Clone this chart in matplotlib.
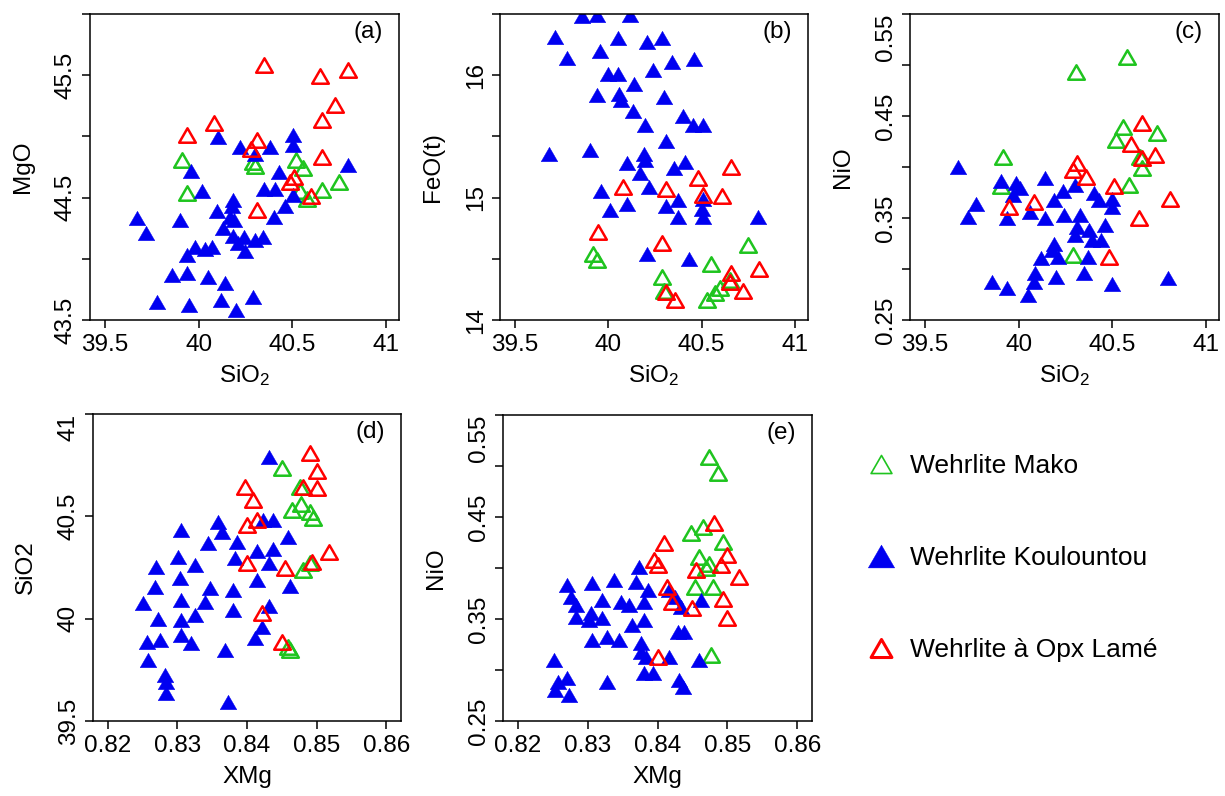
import matplotlib
matplotlib.use('Agg')
import matplotlib.pyplot as plt
from matplotlib.path import Path
from matplotlib.lines import Line2D

plt.rcParams['font.family'] = ['Liberation Sans', 'DejaVu Sans']
plt.rcParams['mathtext.fontset'] = 'custom'
plt.rcParams['mathtext.rm'] = 'Liberation Sans'
plt.rcParams['mathtext.default'] = 'regular'

# ---------------- data ----------------
# (a) SiO2 vs MgO
a_kou_x = [40.105, 40.22, 40.38, 40.505, 40.505, 40.30, 39.96, 40.02, 40.43, 40.35, 40.41, 40.505,
           40.46, 40.40, 40.80, 39.67, 39.72, 39.90, 40.185, 40.18, 40.10, 40.19, 40.13, 40.185,
           40.21, 40.25, 40.30, 40.345, 40.07, 40.035, 39.98, 39.94, 39.86, 39.94, 40.05, 40.14,
           39.78, 39.95, 40.12, 40.20, 40.29, 40.17, 40.24]
a_kou_y = [44.996, 44.91, 44.91, 45.01, 44.93, 44.86, 44.72, 44.55, 44.71, 44.57, 44.57, 44.52,
           44.43, 44.34, 44.77, 44.33, 44.21, 44.32, 44.48, 44.43, 44.39, 44.32, 44.25, 44.19,
           44.13, 44.06, 44.15, 44.18, 44.10, 44.08, 44.10, 44.03, 43.87, 43.88, 43.85, 43.80,
           43.65, 43.62, 43.66, 43.58, 43.69, 44.34, 44.18]
a_mako_x = [39.91, 39.94, 40.29, 40.30, 40.52, 40.56, 40.58, 40.66, 40.75, 40.54]
a_mako_y = [44.81, 44.54, 44.79, 44.76, 44.81, 44.74, 44.49, 44.56, 44.63, 44.55]
a_opx_x = [40.35, 40.65, 40.80, 40.73, 40.66, 39.94, 40.08, 40.31, 40.28, 40.66, 40.51, 40.49,
           40.60, 40.31]
a_opx_y = [45.58, 45.49, 45.54, 45.26, 45.13, 45.01, 45.11, 44.97, 44.90, 44.83, 44.67, 44.63,
           44.51, 44.40]

# (b) SiO2 vs FeO(t)
b_kou_x = [39.857, 39.94, 40.116, 39.714, 39.777, 39.955, 40.05, 40.205, 40.29, 40.34, 40.46,
           40.00, 40.05, 40.24, 40.14, 39.94, 40.06, 40.07, 40.13, 40.30, 40.40, 40.455, 40.51,
           40.196, 40.31, 39.68, 39.90, 40.19, 40.196, 40.10, 40.41, 40.35, 40.17, 40.22, 39.96,
           40.01, 40.10, 40.31, 40.375, 40.375, 40.51, 40.50, 40.51, 40.80, 40.205, 40.43]
b_kou_y = [16.48, 16.49, 16.49, 16.31, 16.14, 16.20, 16.30, 16.27, 16.30, 16.11, 16.13,
           16.01, 16.01, 16.04, 15.93, 15.84, 15.85, 15.80, 15.71, 15.82, 15.67, 15.59, 15.59,
           15.59, 15.46, 15.36, 15.39, 15.36, 15.31, 15.28, 15.29, 15.24, 15.20, 15.09, 15.05,
           14.90, 14.95, 14.93, 14.98, 14.84, 14.99, 14.91, 14.84, 14.84, 14.54, 14.50]
b_mako_x = [39.92, 39.94, 40.29, 40.55, 40.75, 40.60, 40.53, 40.57, 40.65, 40.30]
b_mako_y = [14.54, 14.49, 14.35, 14.46, 14.61, 14.26, 14.16, 14.22, 14.33, 14.24]
b_opx_x = [40.08, 40.31, 40.48, 40.51, 40.61, 40.66, 39.946, 40.29, 40.81, 40.66, 40.65,
           40.72, 40.31, 40.36]
b_opx_y = [15.09, 15.07, 15.16, 15.02, 15.01, 15.25, 14.72, 14.63, 14.42, 14.38, 14.31,
           14.24, 14.23, 14.16]

# (c) SiO2 vs NiO
c_kou_x = [39.675, 39.77, 39.73, 39.906, 39.94, 39.985, 40.01, 39.97, 40.14, 40.06, 40.14,
           40.19, 40.235, 40.30, 40.245, 40.33, 40.31, 40.375, 40.30, 40.405, 40.43, 40.50,
           40.50, 40.46, 40.44, 40.39, 40.19, 40.18, 40.21, 40.12, 40.37, 40.35, 40.20, 40.09,
           40.08, 40.05, 39.86, 39.94, 40.50, 40.80]
c_kou_y = [0.400, 0.364, 0.351, 0.386, 0.350, 0.384, 0.379, 0.3725, 0.389, 0.356, 0.350,
           0.368, 0.376, 0.382, 0.353, 0.353, 0.3415, 0.338, 0.3333, 0.3742, 0.368, 0.369,
           0.361, 0.343, 0.328, 0.328, 0.325, 0.3186, 0.312, 0.3105, 0.312, 0.2958, 0.2925,
           0.2958, 0.2876, 0.2745, 0.2876, 0.2811, 0.2853, 0.2909]
c_mako_x = [40.307, 40.58, 40.556, 40.52, 40.74, 39.915, 40.65, 40.66, 40.59, 40.29, 39.906]
c_mako_y = [0.4934, 0.508, 0.4395, 0.4265, 0.433, 0.410, 0.410, 0.399, 0.382, 0.314, 0.381]
c_opx_x = [40.66, 40.60, 40.66, 40.73, 40.31, 40.29, 40.36, 40.51, 40.81, 40.645, 39.95,
           40.08, 40.485]
c_opx_y = [0.443, 0.423, 0.409, 0.412, 0.4036, 0.397, 0.3905, 0.381, 0.369, 0.350, 0.361,
           0.366, 0.312]

# (d) XMg vs SiO2
d_kou_x = [0.8431, 0.8306, 0.8359, 0.8364, 0.8344, 0.8385, 0.8383, 0.8423, 0.8438, 0.8414,
           0.8438, 0.8459, 0.8431, 0.8414, 0.8462, 0.8270, 0.8301, 0.8325, 0.8268, 0.8304,
           0.8347, 0.8380, 0.8251, 0.8306, 0.8340, 0.8380, 0.8431, 0.8272, 0.8306, 0.8325,
           0.8421, 0.8256, 0.8275, 0.8306, 0.8320, 0.8412, 0.8368, 0.8258, 0.8282, 0.8284,
           0.8284, 0.8373]
d_kou_y = [40.79, 40.433, 40.474, 40.425, 40.368, 40.376, 40.295, 40.48, 40.48, 40.33,
           40.34, 40.40, 40.27, 40.19, 40.16, 40.254, 40.30, 40.26, 40.156, 40.197,
           40.148, 40.14, 40.075, 40.09, 40.083, 40.04, 40.06, 40.00, 39.993, 40.018,
           39.96, 39.887, 39.896, 39.92, 39.88, 39.904, 39.847, 39.80, 39.725, 39.69,
           39.635, 39.594]
d_mako_x = [0.8450, 0.8476, 0.8478, 0.8464, 0.8491, 0.8495, 0.8481, 0.8491, 0.8459, 0.8462]
d_mako_y = [40.735, 40.645, 40.56, 40.53, 40.52, 40.49, 40.24, 40.27, 39.86, 39.847]
d_opx_x = [0.8491, 0.8500, 0.8481, 0.8500, 0.8397, 0.8409, 0.8414, 0.8400, 0.8400, 0.8455,
           0.8493, 0.8517, 0.8421, 0.8450]
d_opx_y = [40.808, 40.72, 40.645, 40.637, 40.645, 40.58, 40.48, 40.457, 40.27, 40.246,
           40.278, 40.327, 40.026, 39.887]

# (e) XMg vs NiO
e_kou_x = [0.8374, 0.8369, 0.8386, 0.8381, 0.8338, 0.8307, 0.8271, 0.8276, 0.8283, 0.8283,
           0.8305, 0.8302, 0.8321, 0.8321, 0.8348, 0.8359, 0.8364, 0.8381, 0.8307, 0.8328,
           0.8345, 0.8376, 0.8376, 0.8383, 0.8417, 0.8429, 0.8438, 0.8460, 0.8417, 0.8433,
           0.8462, 0.8252, 0.8257, 0.8271, 0.8274, 0.8254, 0.8328, 0.8381, 0.8393, 0.8431,
           0.8436, 0.8425]
e_kou_y = [0.4013, 0.3866, 0.3784, 0.367, 0.3882, 0.385, 0.3833, 0.3719, 0.3637, 0.3523,
           0.3556, 0.349, 0.3686, 0.3507, 0.367, 0.3637, 0.3441, 0.349, 0.3294, 0.3327,
           0.3294, 0.3262, 0.318, 0.313, 0.313, 0.3376, 0.3376, 0.3098, 0.378, 0.362,
           0.3686, 0.3098, 0.2885, 0.2918, 0.2755, 0.2804, 0.2885, 0.2968, 0.2968, 0.2902,
           0.2836, 0.372]
e_mako_x = [0.8474, 0.8486, 0.8448, 0.8465, 0.8493, 0.8460, 0.8470, 0.8453, 0.8479, 0.8476,
            0.8474]
e_mako_y = [0.509, 0.4928, 0.434, 0.4405, 0.4258, 0.411, 0.3997, 0.3817, 0.3817, 0.3147,
            0.404]
e_opx_x = [0.8410, 0.8395, 0.8400, 0.8481, 0.8500, 0.8491, 0.8455, 0.8517, 0.8414, 0.8421,
           0.8450, 0.8493, 0.8500, 0.8400]
e_opx_y = [0.4242, 0.4078, 0.4029, 0.4438, 0.4128, 0.4029, 0.398, 0.3915, 0.3817, 0.367,
           0.3605, 0.370, 0.3507, 0.313]

legend_labels = ['Wehrlite Mako', 'Wehrlite Koulountou', 'Wehrlite à Opx Lamé']

# ---------------- style ----------------
GREEN = '#1fc41f'
BLUE = '#0000f0'
RED = '#ff0000'
FS = 17.5

# equilateral triangle like R's pch 2 / 17
tri = Path([(0, 0.433), (-0.5, -0.433), (0.5, -0.433), (0, 0.433)],
           [Path.MOVETO, Path.LINETO, Path.LINETO, Path.CLOSEPOLY])

W, H = 1225, 796
fig = plt.figure(figsize=(W / 100, H / 100), dpi=100)


def px_rect(left, top, right, bottom):
    return [left / W, 1 - bottom / H, (right - left) / W, (bottom - top) / H]


def panel(rect, kou, mako, opx, xlim, ylim, xticks, yticks, ylab_show, xlabel, ylabel, tag):
    ax = fig.add_axes(rect)
    ax.plot(mako[0], mako[1], ls='none', marker=tri, ms=12, mfc='none', mec=GREEN, mew=1.8)
    ax.plot(kou[0], kou[1], ls='none', marker=tri, ms=12, mfc=BLUE, mec=BLUE, mew=0.3)
    ax.plot(opx[0], opx[1], ls='none', marker=tri, ms=12, mfc='none', mec=RED, mew=1.8)
    ax.set_xlim(xlim)
    ax.set_ylim(ylim)
    ax.set_xticks(xticks)
    ax.set_xticklabels([f'{t:g}' for t in xticks])
    ax.set_yticks(yticks)
    ax.set_yticklabels([f'{t:g}' if t in ylab_show else '' for t in yticks],
                       rotation=90, va='center')
    ax.tick_params(direction='out', length=5.8, width=1.1, labelsize=FS)
    ax.tick_params(axis='x', pad=4.5)
    ax.tick_params(axis='y', pad=3.6)
    # a label sitting on the top edge is pushed inside, as in the original
    for lab, t in zip(ax.get_yticklabels(), yticks):
        if t == ylim[1] and t in ylab_show:
            lab.set_va('top')
    for sp in ax.spines.values():
        sp.set_linewidth(1.1)
    ax.set_xlabel(xlabel, fontsize=FS, va='center')
    ax.set_ylabel(ylabel, fontsize=FS, va='center')
    wpx = rect[2] * W
    hpx = rect[3] * H
    ax.xaxis.set_label_coords(0.5, -56 / hpx)
    ax.yaxis.set_label_coords(-67 / wpx, 0.5)
    ax.text(1 - 16 / wpx, 1 - 18 / hpx, tag, transform=ax.transAxes,
            ha='right', va='center', fontsize=FS)
    return ax


sio2_lim = (39.42, 41.07)
xmg_lim = (0.8179, 0.8621)
sio2_ticks = [39.5, 40, 40.5, 41]
xmg_ticks = [0.82, 0.83, 0.84, 0.85, 0.86]
nio_ticks = [0.25, 0.30, 0.35, 0.40, 0.45, 0.50, 0.55]
nio_show = [0.25, 0.35, 0.45, 0.55]

panel(px_rect(90, 14, 399, 320), (a_kou_x, a_kou_y), (a_mako_x, a_mako_y), (a_opx_x, a_opx_y),
      sio2_lim, (43.5, 46.0), sio2_ticks, [43.5, 44, 44.5, 45, 45.5, 46], [43.5, 44.5, 45.5],
      'SiO$_2$', 'MgO', '(a)')
panel(px_rect(500, 14, 808, 320), (b_kou_x, b_kou_y), (b_mako_x, b_mako_y), (b_opx_x, b_opx_y),
      sio2_lim, (14, 16.5), sio2_ticks, [14, 14.5, 15, 15.5, 16, 16.5], [14, 15, 16],
      'SiO$_2$', 'FeO(t)', '(b)')
panel(px_rect(910, 14, 1219, 320), (c_kou_x, c_kou_y), (c_mako_x, c_mako_y), (c_opx_x, c_opx_y),
      sio2_lim, (0.25, 0.55), sio2_ticks, nio_ticks, nio_show,
      'SiO$_2$', 'NiO', '(c)')
panel(px_rect(93, 414, 401, 721), (d_kou_x, d_kou_y), (d_mako_x, d_mako_y), (d_opx_x, d_opx_y),
      xmg_lim, (39.5, 41.0), xmg_ticks, [39.5, 40, 40.5, 41], [39.5, 40, 40.5, 41],
      'XMg', 'SiO2', '(d)')
panel(px_rect(503, 415, 812, 721), (e_kou_x, e_kou_y), (e_mako_x, e_mako_y), (e_opx_x, e_opx_y),
      xmg_lim, (0.25, 0.55), xmg_ticks, nio_ticks, nio_show,
      'XMg', 'NiO', '(e)')

# legend in the empty slot
handles = [
    Line2D([], [], ls='none', marker=tri, ms=15, mfc='none', mec=GREEN, mew=1.2),
    Line2D([], [], ls='none', marker=tri, ms=19, mfc=BLUE, mec=BLUE, mew=0.3),
    Line2D([], [], ls='none', marker=tri, ms=15, mfc='none', mec=RED, mew=2.2),
]
fig.legend(handles, legend_labels, loc='center left', bbox_to_anchor=(844 / W, 1 - 558 / H),
           frameon=False, fontsize=19, labelspacing=2.57, handlelength=1.0, handletextpad=0.6,
           borderpad=0.4)

fig.savefig('out.png', dpi=100)
